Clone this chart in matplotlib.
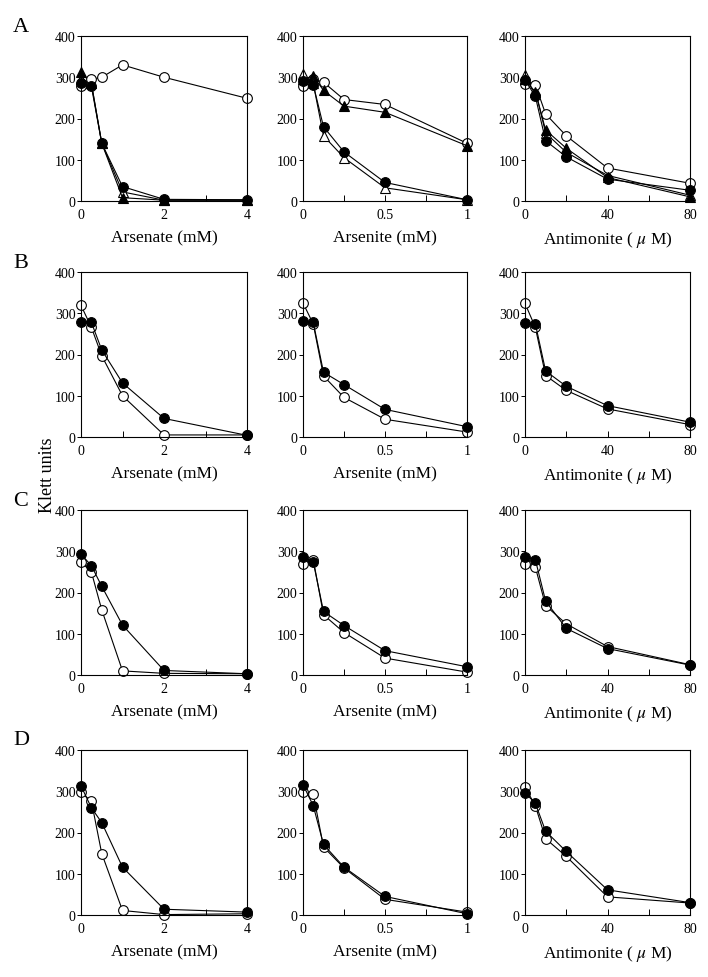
#!/usr/bin/env python3
# -*- coding: utf-8 -*-
"""
Growth (Klett units) versus arsenate, arsenite and antimonite, panels A-D.
"""

import matplotlib
matplotlib.use('Agg')
import matplotlib.pyplot as plt
from matplotlib.ticker import MultipleLocator

plt.rcParams['font.family'] = ['Liberation Serif', 'DejaVu Serif']
plt.rcParams['mathtext.fontset'] = 'stix'

# concentrations
arsenate_mm = [0, 0.25, 0.5, 1, 2, 4]
arsenite_mm = [0, 0.0625, 0.125, 0.25, 0.5, 1]
antimonite_um = [0, 5, 10, 20, 40, 80]

# row A (four strains)
a_ate_open_circle = [280, 295, 300, 330, 300, 249]
a_ate_filled_circle = [285, 278, 140, 35, 4, 3]
a_ate_filled_tri = [312, 285, 140, 8, 2, 2]
a_ate_open_tri = [296, 285, 140, 22, 2, 2]

a_ite_open_circle = [280, 295, 288, 246, 234, 140]
a_ite_filled_tri = [295, 303, 268, 230, 215, 134]
a_ite_filled_circle = [292, 282, 180, 119, 45, 3]
a_ite_open_tri = [308, 285, 158, 105, 32, 3]

a_ant_open_circle = [283, 282, 211, 158, 80, 43]
a_ant_open_tri = [305, 270, 165, 118, 62, 14]
a_ant_filled_tri = [295, 264, 172, 128, 57, 10]
a_ant_filled_circle = [293, 254, 146, 107, 53, 26]

# row B
b_ate_open = [319, 266, 197, 100, 5, 5]
b_ate_filled = [280, 278, 211, 131, 45, 4]
b_ite_open = [325, 274, 148, 96, 43, 12]
b_ite_filled = [281, 278, 157, 127, 67, 25]
b_ant_open = [324, 266, 149, 113, 68, 30]
b_ant_filled = [277, 275, 160, 123, 76, 36]

# row C
c_ate_open = [274, 250, 158, 10, 4, 3]
c_ate_filled = [293, 265, 215, 121, 11, 3]
c_ite_open = [268, 280, 146, 103, 41, 7]
c_ite_filled = [286, 274, 154, 120, 59, 20]
c_ant_open = [268, 262, 168, 124, 69, 25]
c_ant_filled = [285, 280, 179, 113, 64, 24]

# row D
d_ate_open = [297, 276, 149, 11, 1, 3]
d_ate_filled = [313, 260, 224, 116, 14, 7]
d_ite_open = [299, 293, 165, 114, 38, 7]
d_ite_filled = [316, 265, 171, 116, 45, 3]
d_ant_open = [310, 265, 185, 142, 44, 29]
d_ant_filled = [296, 271, 203, 154, 61, 30]

row_labels = ['A', 'B', 'C', 'D']
x_labels = ['Arsenate (mM)', 'Arsenite (mM)', 'Antimonite ( $\\mu$ M)']
x_data = [arsenate_mm, arsenite_mm, antimonite_um]
x_limits = [(0, 4), (0, 1), (0, 80)]
x_major = [[0, 2, 4], [0, 0.5, 1], [0, 40, 80]]
x_major_text = [['0', '2', '4'], ['0', '0.5', '1'], ['0', '40', '80']]
x_minor = [1, 0.25, 20]

STYLES = {
    'open_circle': dict(marker='o', mfc='white', mec='black'),
    'filled_circle': dict(marker='o', mfc='black', mec='black'),
    'open_tri': dict(marker='^', mfc='white', mec='black'),
    'filled_tri': dict(marker='^', mfc='black', mec='black'),
}

panels = [
    [
        [('open_tri', a_ate_open_tri), ('filled_tri', a_ate_filled_tri),
         ('open_circle', a_ate_open_circle),
         ('filled_circle', a_ate_filled_circle)],
        [('open_circle', a_ite_open_circle), ('filled_tri', a_ite_filled_tri),
         ('open_tri', a_ite_open_tri),
         ('filled_circle', a_ite_filled_circle)],
        [('open_tri', a_ant_open_tri), ('open_circle', a_ant_open_circle),
         ('filled_tri', a_ant_filled_tri),
         ('filled_circle', a_ant_filled_circle)],
    ],
    [
        [('open_circle', b_ate_open), ('filled_circle', b_ate_filled)],
        [('open_circle', b_ite_open), ('filled_circle', b_ite_filled)],
        [('open_circle', b_ant_open), ('filled_circle', b_ant_filled)],
    ],
    [
        [('open_circle', c_ate_open), ('filled_circle', c_ate_filled)],
        [('open_circle', c_ite_open), ('filled_circle', c_ite_filled)],
        [('open_circle', c_ant_open), ('filled_circle', c_ant_filled)],
    ],
    [
        [('open_circle', d_ate_open), ('filled_circle', d_ate_filled)],
        [('open_circle', d_ite_open), ('filled_circle', d_ite_filled)],
        [('open_circle', d_ant_open), ('filled_circle', d_ant_filled)],
    ],
]

W, H = 708.0, 978.0
col_left = [81, 303, 525]
col_width = [166, 164, 165]
row_bottom = [202, 438, 676, 916]
ax_height = 165

figure = plt.figure(figsize=(7.08, 9.78), dpi=100)

for r in range(4):
    for c in range(3):
        axes = figure.add_axes([col_left[c] / W, 1 - row_bottom[r] / H,
                                col_width[c] / W, ax_height / H])
        for style, values in panels[r][c]:
            axes.plot(x_data[c], values, color='black', lw=0.8, ms=7,
                      mew=0.8, clip_on=False, **STYLES[style])
        axes.set_xlim(*x_limits[c])
        axes.set_ylim(0, 400)
        axes.set_xticks(x_major[c])
        axes.set_xticklabels(x_major_text[c])
        axes.xaxis.set_minor_locator(MultipleLocator(x_minor[c]))
        axes.set_yticks([0, 100, 200, 300, 400])
        axes.tick_params(axis='x', which='both', direction='in', length=4,
                         width=0.7, labelsize=10, pad=5)
        axes.tick_params(axis='y', which='both', direction='out', length=3,
                         width=0.7, labelsize=10, pad=1)
        for spine in axes.spines.values():
            spine.set_linewidth(0.8)
        axes.set_xlabel(x_labels[c], fontsize=12.5, labelpad=6)
    figure.text(13 / W, 1 - (row_bottom[r] - ax_height - 10) / H,
                row_labels[r], fontsize=16, ha='left', va='center')

figure.text(48 / W, 1 - 475 / H, 'Klett units', rotation=90,
            fontsize=13, ha='center', va='center')

figure.savefig('out.png', dpi=100)
plt.close(figure)
